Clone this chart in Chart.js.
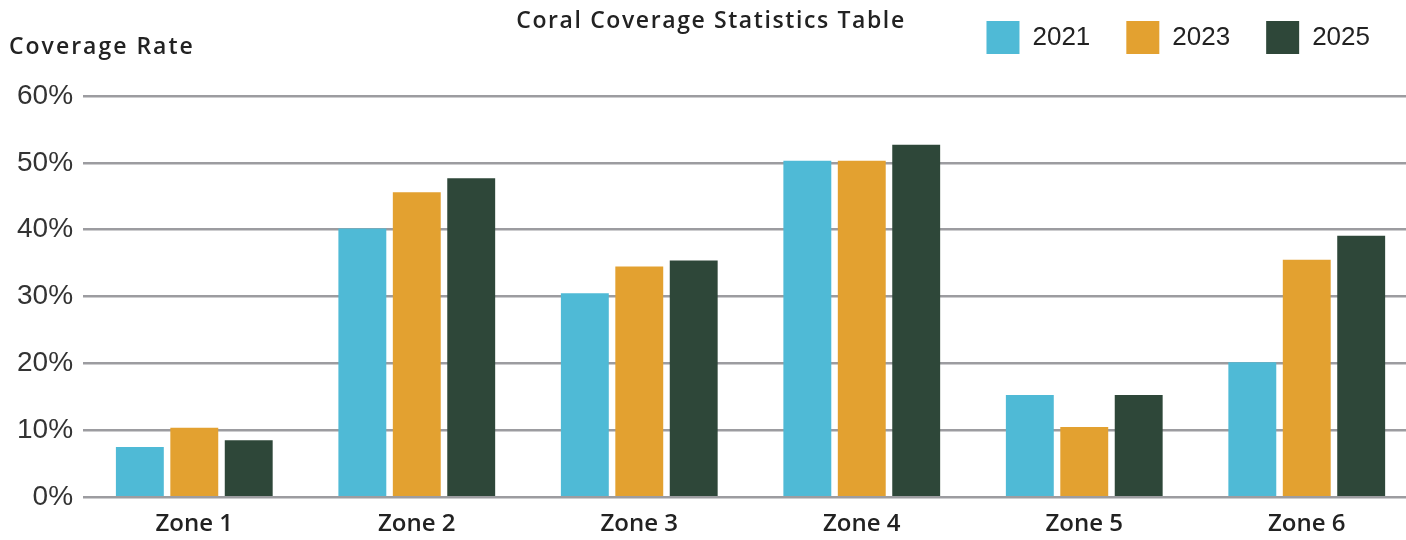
<!DOCTYPE html>
<html>
<head>
<meta charset="utf-8">
<script src="https://cdn.jsdelivr.net/npm/chart.js@4"></script>
<style>
  html, body { margin: 0; padding: 0; background: #fff; overflow: hidden; }
  #wrap { position: relative; width: 1420px; height: 540px; }
</style>
</head>
<body>
<div id="wrap"><canvas id="coralChart"></canvas></div>
<script>
// Chart data
const categories = ["Zone 1", "Zone 2", "Zone 3", "Zone 4", "Zone 5", "Zone 6"];
const seriesNames = ["2021", "2023", "2025"];
const values2021 = [7.5, 40.2, 30.5, 50.3, 15.3, 20.2];
const values2023 = [10.4, 45.6, 34.5, 50.3, 10.5, 35.5];
const values2025 = [8.5, 47.7, 35.4, 52.7, 15.3, 39.1];
const yTicks = [0, 10, 20, 30, 40, 50, 60];

const colors = ["#4fbad6", "#e3a130", "#2e4739"];

// Title and axis label drawn on the canvas, legend sizing tweaks
const textPlugin = {
    id: "textPlugin",
    beforeInit(chart) {
        const fit = chart.legend.fit;
        chart.legend.fit = function () {
            fit.call(this);
            this.height = 111;
        };
    },
    afterLayout(chart) {
        chart.legend.left -= 12;
        chart.legend.right -= 12;
    },
    afterDraw(chart) {
        const c = chart.ctx;
        c.save();
        c.fillStyle = "#222";
        c.textBaseline = "middle";
        c.font = "600 23px 'Open Sans'";
        c.textAlign = "center";
        c.letterSpacing = "1.6px";
        c.fillText("Coral Coverage Statistics Table", 711, 21);
        c.textAlign = "left";
        c.letterSpacing = "2px";
        c.fillText("Coverage Rate", 9, 47);
        c.restore();
    },
};

const ctx = document.getElementById("coralChart").getContext("2d");
new Chart(ctx, {
    type: "bar",
    data: {
        labels: categories,
        datasets: [values2021, values2023, values2025].map((vals, i) => ({
            label: seriesNames[i],
            data: vals,
            backgroundColor: colors[i],
            borderWidth: 0,
            categoryPercentage: 0.734,
            barPercentage: 0.88,
        })),
    },
    options: {
        responsive: true,
        maintainAspectRatio: false,
        animation: false,
        layout: { padding: { left: 7, right: 2, top: -15, bottom: -12 } },
        plugins: {
            title: { display: false },
            tooltip: { enabled: false },
            legend: {
                position: "top",
                align: "end",
                labels: {
                    boxWidth: 33,
                    boxHeight: 33,
                    padding: 36,
                    color: "#222",
                    font: { family: "'Liberation Sans', Arial", size: 26 },
                },
            },
        },
        scales: {
            x: {
                grid: { display: false, drawTicks: false },
                border: { display: false },
                ticks: {
                    color: "#222",
                    padding: 13,
                    font: { family: "'Open Sans'", size: 24, weight: 600 },
                },
            },
            y: {
                min: 0,
                max: 60,
                afterBuildTicks(axis) {
                    axis.ticks = yTicks.map((v) => ({ value: v }));
                },
                border: { display: false },
                grid: { color: "#9c9ca0", lineWidth: 2.5, drawTicks: false },
                ticks: {
                    color: "#333",
                    padding: 10,
                    font: { family: "'Liberation Sans', Arial", size: 28 },
                    callback: (v) => v + "%",
                },
            },
        },
    },
    plugins: [textPlugin],
});
</script>
</body>
</html>
